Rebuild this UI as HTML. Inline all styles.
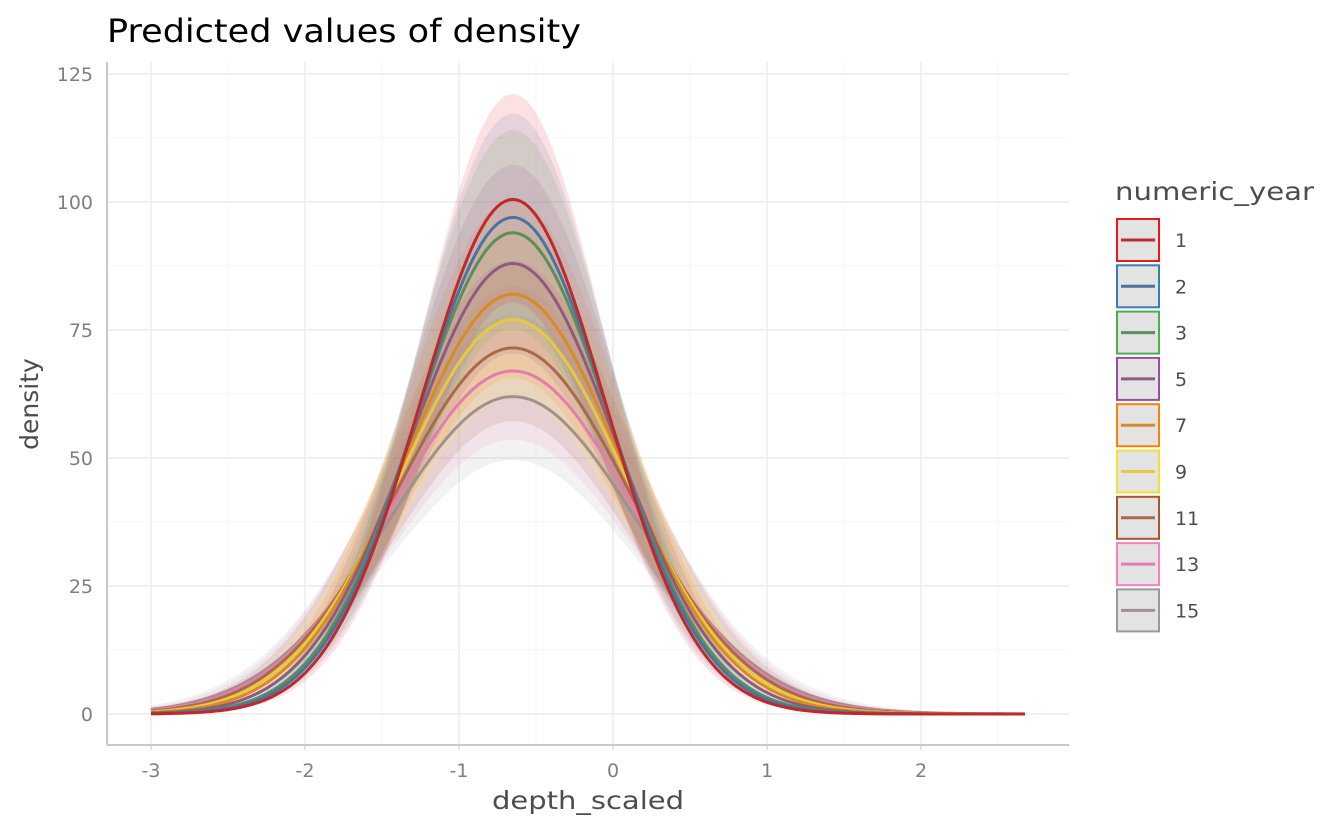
<!DOCTYPE html>
<html><head><meta charset="utf-8"><style>
body{margin:0;background:#fff;}
svg text{font-family:"DejaVu Sans","Liberation Sans",sans-serif;}
</style></head><body>
<svg id="s" width="1344" height="830" xmlns="http://www.w3.org/2000/svg"></svg>
<script>
const s=document.getElementById('s');
const X=v=>613+154*v, Y=v=>714-5.12*v;
let h='';
for(let v=-3.5;v<=2.75;v+=0.5){const x=X(v);if(x<107||x>1069)continue;h+=`<line x1="${x}" y1="62" x2="${x}" y2="745" stroke="${Number.isInteger(v)?'#ebebeb':'#f4f4f4'}" stroke-width="${Number.isInteger(v)?1.4:0.8}"/>`;}
for(let v=-12.5;v<=130;v+=12.5){const y=Y(v);if(y<62||y>745)continue;const maj=v%25==0;h+=`<line x1="107" y1="${y}" x2="1069" y2="${y}" stroke="${maj?'#ebebeb':'#f4f4f4'}" stroke-width="${maj?1.4:0.8}"/>`;}
const cols=['#E41A1C','#377EB8','#4DAF4A','#984EA3','#FF7F00','#FFFF33','#A65628','#F781BF','#999999'];
const lcol=['#C0282B','#4A73A0','#5A8F5A','#905A80','#D98A20','#E8C840','#A86A48','#E07EAE','#A09090'];
const peaks=[100.5,97,94,88,82,77,71.5,67,62];
const labs=['1','2','3','5','7','9','11','13','15'];
const f=(i,x)=>{const p=peaks[i];const sd=0.6+(100.5-p)/(100.5-62)*0.21;return p*Math.exp(-Math.pow(x+0.65,2)/(2*sd*sd));};
const xs=[];for(let x=-3;x<=2.675;x+=0.025)xs.push(x);xs.push(2.675);
let rib='',lines='';
for(let i=8;i>=0;i--){
 let up=xs.map(x=>`${X(x).toFixed(1)},${Y(f(i,x)*1.2+(0.5+3*(i/8))*Math.exp(-Math.pow(x+0.65,2)/3)).toFixed(1)}`);
 let lo=xs.slice().reverse().map(x=>`${X(x).toFixed(1)},${Y(f(i,x)*0.8).toFixed(1)}`);
 rib+=`<polygon points="${up.join(' ')} ${lo.join(' ')}" fill="${cols[i]}" fill-opacity="0.13"/>`;
}
for(let i=8;i>=0;i--){
 lines+=`<polyline points="${xs.map(x=>`${X(x).toFixed(1)},${Y(f(i,x)).toFixed(1)}`).join(' ')}" fill="none" stroke="${lcol[i]}" stroke-width="3"/>`;
}
h+=rib+lines;
h+=`<line x1="107" y1="62" x2="107" y2="745" stroke="#c8c8c8" stroke-width="2"/><line x1="107" y1="745" x2="1069" y2="745" stroke="#c8c8c8" stroke-width="2"/>`;
for(let v=-3;v<=2;v++){h+=`<line x1="${X(v)}" y1="745" x2="${X(v)}" y2="750" stroke="#c8c8c8"/><text x="${X(v)}" y="777" font-size="19" fill="#7f7f7f" text-anchor="middle">${v}</text>`;}
for(let v=0;v<=125;v+=25){h+=`<text x="93" y="${Y(v)+7}" font-size="19" fill="#7f7f7f" text-anchor="end">${v}</text>`;}
h+=`<text x="107" y="42" font-size="32" fill="#000" textLength="474" lengthAdjust="spacingAndGlyphs">Predicted values of density</text>`;
h+=`<text x="492" y="809" font-size="25" fill="#4d4d4d" textLength="192" lengthAdjust="spacingAndGlyphs">depth_scaled</text>`;
h+=`<text transform="translate(38,404) rotate(-90)" font-size="25" fill="#4d4d4d" text-anchor="middle">density</text>`;
h+=`<text x="1115" y="200" font-size="25" fill="#4d4d4d" textLength="199" lengthAdjust="spacingAndGlyphs">numeric_year</text>`;
for(let i=0;i<9;i++){const y=219+i*46.3;
 h+=`<rect x="1117" y="${y}" width="42" height="42" fill="#e3e3e3" stroke="${cols[i]==='#FFFF33'?'#F0E030':cols[i]}" stroke-width="2"/><line x1="1121" y1="${y+21}" x2="1155" y2="${y+21}" stroke="${lcol[i]}" stroke-width="3"/><text x="1175" y="${y+28}" font-size="19" fill="#4d4d4d">${labs[i]}</text>`;}
s.innerHTML=h;
</script>
</body></html>
